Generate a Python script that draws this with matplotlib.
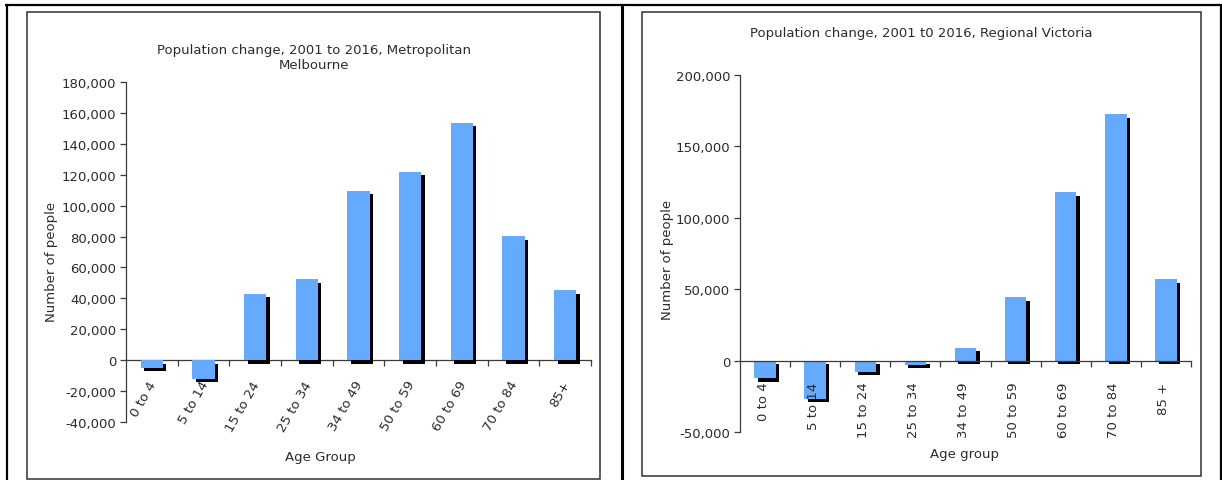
import matplotlib
matplotlib.use("Agg")
import matplotlib.pyplot as plt
import matplotlib.transforms as mtransforms
from matplotlib.patches import Rectangle
from matplotlib.lines import Line2D
from matplotlib.ticker import FuncFormatter, FixedLocator

# ---- data ----
metro_groups = ["0 to 4", "5 to 14", "15 to 24", "25 to 34", "34 to 49",
                "50 to 59", "60 to 69", "70 to 84", "85+"]
metro_change = [-5000, -12000, 43000, 52500, 109500, 121800, 153500, 80300, 45300]
metro_yticks = [-40000, -20000, 0, 20000, 40000, 60000, 80000, 100000,
                120000, 140000, 160000, 180000]

regional_groups = ["0 to 4", "5 to 14", "15 to 24", "25 to 34", "34 to 49",
                   "50 to 59", "60 to 69", "70 to 84", "85 +"]
regional_change = [-12500, -26600, -7700, -2800, 9100, 44200, 117800, 172500, 56800]
regional_yticks = [-50000, 0, 50000, 100000, 150000, 200000]

W, H = 1222, 481
BAR = "#64AAFE"
TXT = "#2b2b2b"
FS = 9.5
plt.rcParams["font.family"] = "DejaVu Sans"

fig = plt.figure(figsize=(W / 100, H / 100), dpi=100)
fig.patch.set_facecolor("white")


def fx(x):
    return x / W


def fy(y):
    return 1 - y / H


def add_frame_line(x0, y0, x1, y1, lw, color="black"):
    fig.add_artist(Line2D([fx(x0), fx(x1)], [fy(y0), fy(y1)],
                          transform=fig.transFigure, lw=lw, color=color,
                          solid_capstyle="butt"))


# outer table frame
add_frame_line(5, 5.5, 1222, 5.5, 1.6)
add_frame_line(7, 5, 7, 481, 1.6)
add_frame_line(621.5, 5, 621.5, 481, 2.2)
add_frame_line(1220.5, 5, 1220.5, 481, 1.6)

# chart boxes
for (x0, y0, x1, y1) in [(27, 13, 600, 480), (642, 13, 1201, 477)]:
    fig.add_artist(Rectangle((fx(x0), fy(y1)), fx(x1) - fx(x0), fy(y0) - fy(y1),
                             transform=fig.transFigure, fill=False,
                             edgecolor="#303030", lw=1.1))


def make_panel(rect_px, groups, values, yticks, rotation, label_pad,
               labels_behind, label_dx):
    x0, y0, x1, y1 = rect_px
    ax = fig.add_axes([fx(x0), fy(y1), fx(x1) - fx(x0), fy(y0) - fy(y1)])
    ax.set_facecolor("none")
    n = len(groups)
    xs = list(range(n))
    shadow = mtransforms.offset_copy(ax.transData, fig=fig, x=3.5, y=-3.5,
                                     units="dots")
    # bars sit above the tick labels in one panel and below them in the other
    z = 3 if labels_behind else 2.2
    ax.bar(xs, values, width=0.43, color="black", transform=shadow, zorder=z - 0.1)
    ax.bar(xs, values, width=0.43, color=BAR, zorder=z)
    ax.set_axisbelow(True if labels_behind else False)

    ax.set_xlim(-0.5, n - 0.5)
    ax.set_ylim(yticks[0], yticks[-1])
    ax.set_yticks(yticks)
    ax.yaxis.set_major_formatter(FuncFormatter(lambda v, p: f"{v:,.0f}"))

    for s in ("top", "right"):
        ax.spines[s].set_visible(False)
    ax.spines["bottom"].set_position(("data", 0))
    for s in ("left", "bottom"):
        ax.spines[s].set_color("#3a3a3a")
        ax.spines[s].set_linewidth(0.9)

    ax.set_xticks(xs)
    ax.xaxis.set_minor_locator(FixedLocator([i + 0.5 for i in range(n)]))
    ax.tick_params(axis="x", which="major", length=0, pad=label_pad)
    ax.tick_params(axis="x", which="minor", length=4, width=0.9,
                   direction="out", color="#3a3a3a")
    ax.tick_params(axis="y", length=4, width=0.9, direction="out",
                   color="#3a3a3a", labelsize=FS, labelcolor=TXT, pad=3)
    if rotation == 90:
        labels = ax.set_xticklabels(groups, rotation=90, ha="center", va="top",
                                    fontsize=FS, color=TXT)
    else:
        labels = ax.set_xticklabels(groups, rotation=rotation, ha="right",
                                    va="top", rotation_mode="anchor",
                                    fontsize=FS, color=TXT)
    shift = mtransforms.ScaledTranslation(label_dx / 100, 0, fig.dpi_scale_trans)
    for lab in labels:
        lab.set_transform(lab.get_transform() + shift)
    return ax


make_panel((126, 83, 591, 423), metro_groups, metro_change, metro_yticks,
           60, 13, True, -4)
make_panel((740, 76, 1191, 433), regional_groups, regional_change,
           regional_yticks, 90, 15, False, -2)

# titles and axis titles
fig.text(fx(314), fy(58), "Population change, 2001 to 2016, Metropolitan\nMelbourne",
         ha="center", va="center", fontsize=FS, color=TXT, linespacing=1.2)
fig.text(fx(921), fy(34), "Population change, 2001 t0 2016, Regional Victoria",
         ha="center", va="center", fontsize=FS, color=TXT)
fig.text(fx(51), fy(262), "Number of people", rotation=90, ha="center",
         va="center", fontsize=FS, color=TXT)
fig.text(fx(667), fy(260), "Number of people", rotation=90, ha="center",
         va="center", fontsize=FS, color=TXT)
fig.text(fx(320), fy(458), "Age Group", ha="center", va="center",
         fontsize=FS, color=TXT)
fig.text(fx(965), fy(455), "Age group", ha="center", va="center",
         fontsize=FS, color=TXT)

fig.savefig("out.png", dpi=100, facecolor="white")
